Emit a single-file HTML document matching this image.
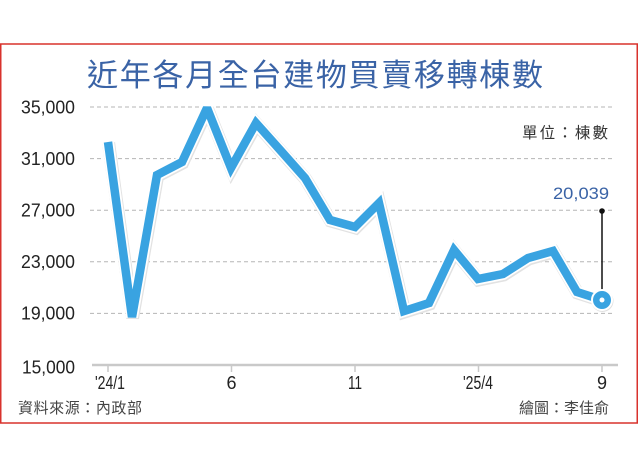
<!DOCTYPE html>
<html>
<head>
<meta charset="utf-8">
<style>
  html,body{margin:0;padding:0;background:#fff;}
  body{width:640px;height:460px;overflow:hidden;}
  svg{display:block;}
  .num{font-family:"Liberation Sans",sans-serif;}
  .cjk{font-family:"Liberation Sans","Noto Sans CJK TC",sans-serif;}
</style>
</head>
<body>
<svg width="640" height="460" viewBox="0 0 640 460" xmlns="http://www.w3.org/2000/svg">
  <rect x="0" y="0" width="640" height="460" fill="#fff"/>
  <!-- red frame -->
  <rect x="0.75" y="44" width="636.5" height="379" fill="#fff" stroke="#d8322c" stroke-width="1.5"/>

  <!-- title -->
  <text x="315" y="86" text-anchor="middle" class="cjk" font-size="31" fill="#3a63a6" textLength="456" lengthAdjust="spacing">近年各月全台建物買賣移轉棟數</text>

  <!-- gridlines -->
  <g stroke="#b5b5b5" stroke-width="1" stroke-dasharray="4 3">
    <line x1="90" y1="107" x2="612" y2="107"/>
    <line x1="90" y1="158.6" x2="612" y2="158.6"/>
    <line x1="90" y1="210.2" x2="612" y2="210.2"/>
    <line x1="90" y1="261.8" x2="612" y2="261.8"/>
    <line x1="90" y1="313.4" x2="612" y2="313.4"/>
  </g>

  <!-- axis -->
  <line x1="92" y1="365" x2="618" y2="365" stroke="#c9c9c9" stroke-width="2.5"/>
  <g stroke="#c9c9c9" stroke-width="1.5">
    <line x1="108" y1="365" x2="108" y2="372"/>
    <line x1="231.5" y1="365" x2="231.5" y2="372"/>
    <line x1="355" y1="365" x2="355" y2="372"/>
    <line x1="478.5" y1="365" x2="478.5" y2="372"/>
    <line x1="602" y1="365" x2="602" y2="372"/>
  </g>

  <!-- y labels -->
  <g class="num" font-size="18" fill="#222" text-anchor="end">
    <text x="75" y="113.5" textLength="54" lengthAdjust="spacingAndGlyphs">35,000</text>
    <text x="75" y="165" textLength="54" lengthAdjust="spacingAndGlyphs">31,000</text>
    <text x="75" y="216.5" textLength="54" lengthAdjust="spacingAndGlyphs">27,000</text>
    <text x="75" y="268" textLength="54" lengthAdjust="spacingAndGlyphs">23,000</text>
    <text x="75" y="319.5" textLength="54" lengthAdjust="spacingAndGlyphs">19,000</text>
    <text x="75" y="373.5" textLength="53" lengthAdjust="spacingAndGlyphs">15,000</text>
  </g>

  <!-- x labels -->
  <g class="num" font-size="18" fill="#222">
    <text x="95" y="389" textLength="30" lengthAdjust="spacingAndGlyphs">'24/1</text>
    <text x="231.5" y="389" text-anchor="middle">6</text>
    <text x="355" y="389" text-anchor="middle" textLength="14" lengthAdjust="spacingAndGlyphs">11</text>
    <text x="463" y="389" textLength="30" lengthAdjust="spacingAndGlyphs">'25/4</text>
    <text x="602" y="389" text-anchor="middle">9</text>
  </g>

  <!-- unit -->
  <text x="608" y="138" text-anchor="end" class="cjk" font-size="15.5" fill="#333" textLength="86" lengthAdjust="spacing">單位：棟數</text>

  <!-- footer -->
  <text x="18" y="413" class="cjk" font-size="15" fill="#444" textLength="124" lengthAdjust="spacing">資料來源：內政部</text>
  <text x="609" y="413" text-anchor="end" class="cjk" font-size="15" fill="#444" textLength="90" lengthAdjust="spacing">繪圖：李佳俞</text>

  <!-- series -->
  <g fill="none" stroke-linejoin="miter" stroke-miterlimit="2.5">
    <polyline transform="translate(0.6,1)" stroke="#e2e2e2" stroke-width="13" points="108,142 132,317 157,175 182,162 207,108 231,168 256,123 281,151 305,178 330,220 355,227 379,203 404,311 429,303 454,250 478,279 503,274 528,258 553,251 577,292 602,300"/>
    <polyline stroke="#ffffff" stroke-width="12" points="108,142 132,317 157,175 182,162 207,108 231,168 256,123 281,151 305,178 330,220 355,227 379,203 404,311 429,303 454,250 478,279 503,274 528,258 553,251 577,292 602,300"/>
    <polyline stroke="#39a3e1" stroke-width="8.5" points="108,142 132,317 157,175 182,162 207,108 231,168 256,123 281,151 305,178 330,220 355,227 379,203 404,311 429,303 454,250 478,279 503,274 528,258 553,251 577,292 602,300"/>
  </g>

  <!-- annotation -->
  <line x1="602" y1="211" x2="602" y2="292" stroke="#111" stroke-width="1.5"/>
  <circle cx="602" cy="211" r="2.8" fill="#111"/>
  <circle cx="602.5" cy="301" r="11" fill="#e0e0e0"/>
  <circle cx="602" cy="300" r="10" fill="#39a3e1" stroke="#fff" stroke-width="2"/>
  <circle cx="602" cy="300" r="2.5" fill="#fff"/>
  <text x="609" y="199" text-anchor="end" class="num" font-size="17" fill="#3a63a6" textLength="56" lengthAdjust="spacingAndGlyphs">20,039</text>
</svg>
</body>
</html>
